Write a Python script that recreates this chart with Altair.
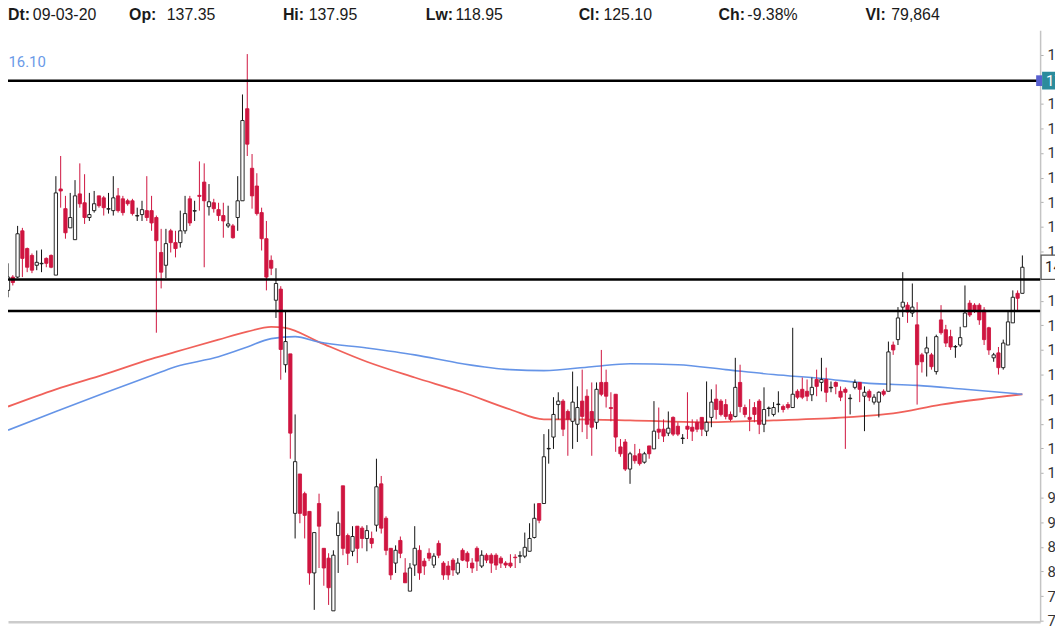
import altair as alt
import pandas as pd

OPEN = [
    137.1, 139.8, 139.8, 149.2, 145.6, 144.2, 142.2, 142.5, 143.6, 144.2,
    140.2, 157.7, 153.7, 149.8, 147.4, 156.7, 154.9, 151.9, 153.3, 156.3,
    155.9, 153.6, 153.3, 156.3, 155.7, 155.3, 155.3, 152.2, 152.5, 153.3,
    153.3, 151.9, 144.8, 142.2, 149.2, 146.8, 146.8, 149.2, 155.7, 153.2,
    156.4, 159.1, 154.1, 154.9, 153.5, 152.3, 150.2, 150.2, 151.9, 155.3,
    174.0, 161.9, 158.3, 152.9, 147.6, 143.2, 135.1, 137.35, 122.0, 124.2,
    91.8, 99.8, 95.8, 92.2, 79.7, 93.8, 84.7, 82.7, 72.0, 87.3,
    97.4, 87.3, 84.1, 89.2, 88.8, 86.7, 86.7, 89.4, 97.8, 90.8,
    84.7, 81.7, 86.3, 79.7, 76.0, 81.3, 84.3, 82.1, 83.7, 81.3,
    85.7, 81.7, 81.1, 82.3, 79.7, 84.3, 83.7, 81.7, 84.7, 81.1,
    83.3, 83.3, 83.3, 82.7, 81.7, 81.7, 82.9, 83.1, 83.1, 84.1,
    86.9, 93.8, 93.8, 104.9, 107.3, 113.9, 114.6, 112.5, 110.5, 109.9,
    114.6, 115.6, 112.5, 110.3, 118.4, 118.4, 113.3, 116.0, 105.3, 106.3,
    100.8, 103.5, 103.9, 102.2, 105.5, 104.9, 108.9, 108.9, 108.1, 111.3,
    109.5, 107.0, 109.5, 109.3, 110.3, 111.3, 108.5, 111.3, 115.0, 114.6,
    113.9, 111.9, 111.5, 118.4, 113.3, 111.3, 113.3, 114.6, 109.9, 113.1,
    111.9, 113.9, 113.5, 113.9, 113.3, 116.6, 117.0, 116.6, 115.9, 119.0,
    118.4, 119.0, 117.3, 118.4, 116.6, 117.0, 115.1, 117.4, 118.4, 115.6,
    116.6, 114.4, 114.4, 116.6, 116.6, 126.0, 127.1, 133.7, 134.1, 132.5,
    130.1, 124.0, 124.4, 124.0, 120.6, 131.1, 129.1, 127.7, 125.6, 126.0,
    129.7, 134.5, 134.1, 134.1, 133.1, 129.5, 123.4, 124.4, 121.4, 126.0,
    130.5, 136.5, 136.5,
]
HIGH = [
    142.6, 140.2, 150.2, 149.8, 145.8, 144.6, 145.2, 145.4, 143.8, 144.4,
    160.3, 164.4, 156.3, 156.9, 159.5, 162.9, 160.7, 156.9, 157.3, 156.3,
    156.3, 156.9, 160.3, 157.9, 156.3, 155.7, 155.7, 153.9, 155.3, 160.3,
    156.3, 152.3, 149.6, 149.6, 149.6, 149.2, 153.3, 156.3, 156.3, 155.3,
    163.3, 162.9, 158.7, 155.7, 154.9, 154.9, 154.3, 150.6, 160.3, 176.9,
    185.1, 164.8, 160.9, 153.9, 151.2, 144.2, 141.6, 137.95, 132.7, 124.2,
    111.9, 99.8, 96.2, 92.2, 87.9, 95.8, 84.7, 83.7, 84.3, 92.2,
    97.4, 87.7, 89.2, 89.2, 89.2, 89.4, 88.1, 102.9, 99.4, 91.2,
    84.7, 85.3, 87.1, 82.7, 81.7, 89.2, 85.3, 82.7, 84.7, 83.7,
    86.3, 82.1, 82.1, 82.7, 82.7, 84.7, 84.1, 82.7, 85.1, 84.3,
    83.7, 83.7, 83.7, 83.1, 82.1, 83.5, 83.5, 84.1, 87.9, 89.8,
    93.8, 93.8, 107.9, 108.9, 115.4, 116.4, 115.0, 112.9, 120.6, 117.6,
    121.0, 117.0, 118.4, 118.4, 125.0, 121.0, 116.4, 116.0, 106.9, 106.9,
    104.3, 105.9, 104.9, 104.3, 105.5, 114.6, 113.3, 110.9, 112.5, 111.5,
    110.3, 107.9, 116.4, 110.9, 110.9, 111.3, 118.6, 117.0, 118.0, 115.0,
    115.0, 112.5, 123.4, 122.0, 113.9, 115.0, 114.4, 115.0, 117.4, 113.5,
    114.4, 116.6, 113.9, 114.4, 129.5, 117.0, 119.4, 119.0, 119.4, 121.0,
    123.4, 121.4, 118.6, 118.6, 117.6, 117.4, 116.0, 119.0, 118.4, 117.6,
    117.0, 116.0, 116.6, 117.0, 126.7, 126.7, 133.7, 140.8, 134.7, 138.5,
    134.7, 124.4, 127.7, 124.4, 128.1, 134.1, 130.1, 129.1, 126.0, 129.7,
    138.1, 135.1, 134.5, 134.5, 133.7, 129.7, 124.4, 125.6, 127.1, 132.7,
    137.1, 137.1, 144.2,
]
LOW = [
    135.7, 138.1, 139.6, 139.8, 140.8, 140.6, 141.2, 140.8, 141.8, 141.6,
    140.2, 153.9, 147.6, 149.8, 147.4, 153.9, 150.6, 151.2, 152.9, 153.9,
    152.3, 152.7, 152.3, 152.9, 152.3, 154.3, 152.3, 151.2, 151.2, 151.2,
    149.2, 128.5, 137.5, 139.6, 144.8, 143.8, 145.8, 148.6, 150.2, 151.2,
    153.3, 141.8, 152.3, 152.9, 151.2, 147.8, 149.8, 147.6, 149.2, 155.3,
    164.4, 153.7, 152.3, 145.2, 137.1, 140.2, 131.5, 118.95, 120.4, 102.9,
    86.7, 89.8, 86.7, 77.3, 72.2, 80.7, 77.1, 73.2, 72.0, 79.7,
    83.3, 81.3, 83.1, 81.7, 84.7, 84.1, 84.7, 88.1, 87.7, 83.3,
    78.3, 79.7, 82.7, 77.7, 76.0, 79.1, 78.3, 79.3, 82.1, 80.7,
    82.7, 78.3, 78.3, 79.1, 79.3, 82.1, 80.7, 79.7, 80.1, 80.7,
    81.7, 79.7, 80.3, 80.7, 80.7, 80.7, 80.7, 81.7, 82.7, 84.1,
    86.7, 89.8, 93.8, 101.9, 104.9, 110.9, 107.5, 103.5, 104.9, 106.3,
    108.3, 106.9, 103.5, 108.9, 115.6, 113.3, 110.5, 104.3, 103.3, 100.4,
    97.8, 101.9, 101.5, 101.9, 102.9, 104.9, 106.9, 106.3, 107.5, 107.5,
    107.5, 105.9, 106.9, 106.5, 108.3, 107.5, 107.5, 109.3, 110.9, 111.5,
    110.9, 110.5, 111.3, 112.3, 111.3, 108.5, 110.3, 107.9, 108.3, 111.5,
    111.5, 112.3, 112.3, 112.9, 113.3, 115.0, 115.0, 114.6, 114.6, 115.6,
    116.6, 114.4, 116.4, 116.0, 114.6, 104.9, 111.9, 117.0, 114.4, 108.5,
    114.6, 113.9, 111.3, 115.6, 116.6, 124.0, 126.0, 131.7, 130.5, 131.7,
    113.9, 120.4, 119.6, 121.0, 120.0, 128.1, 125.6, 125.0, 123.4, 125.6,
    129.7, 131.7, 132.5, 130.1, 126.0, 124.0, 122.6, 120.0, 121.0, 126.0,
    130.5, 133.1, 136.5,
]
CLOSE = [
    139.8, 138.7, 148.6, 143.6, 141.8, 141.2, 142.8, 142.6, 142.6, 141.8,
    156.9, 157.3, 148.8, 151.9, 156.3, 154.7, 151.9, 152.5, 154.7, 154.3,
    153.9, 153.7, 155.9, 153.3, 152.9, 154.7, 152.7, 152.3, 153.5, 151.9,
    150.8, 147.2, 140.8, 146.6, 146.8, 145.6, 149.2, 152.7, 150.8, 153.3,
    156.2, 155.3, 155.1, 153.7, 152.3, 151.2, 150.6, 147.8, 155.3, 171.6,
    166.8, 156.3, 152.7, 147.6, 139.8, 141.6, 138.5, 125.10, 126.7, 108.1,
    102.3, 91.8, 91.4, 79.7, 87.9, 89.2, 80.7, 76.7, 83.3, 89.8,
    84.7, 83.7, 87.1, 84.7, 86.7, 88.3, 85.7, 97.2, 88.8, 84.3,
    79.3, 84.3, 83.7, 77.7, 80.7, 84.7, 79.7, 81.1, 82.7, 83.1,
    83.3, 79.3, 79.3, 80.3, 81.7, 82.3, 82.1, 80.7, 82.1, 83.3,
    82.3, 81.7, 81.3, 81.7, 81.3, 81.1, 82.8, 83.2, 84.9, 86.7,
    90.8, 90.4, 103.3, 105.0, 111.9, 114.6, 108.9, 110.9, 114.4, 113.3,
    111.5, 109.9, 109.3, 117.0, 116.0, 115.6, 113.1, 107.3, 103.9, 100.8,
    103.9, 102.5, 101.9, 103.9, 103.9, 108.5, 108.3, 107.5, 109.1, 107.9,
    107.9, 107.1, 108.9, 108.5, 108.9, 108.9, 110.3, 114.4, 112.9, 111.9,
    111.5, 110.9, 117.4, 113.5, 111.9, 110.9, 111.9, 109.9, 112.9, 113.2,
    113.3, 114.0, 112.9, 113.3, 116.0, 115.4, 115.4, 115.6, 117.4, 117.6,
    119.0, 116.4, 117.4, 117.6, 115.4, 116.4, 115.2, 118.4, 117.0, 116.4,
    115.4, 115.4, 116.4, 116.0, 124.6, 125.0, 131.5, 134.7, 132.7, 133.7,
    122.0, 122.6, 125.4, 121.6, 127.7, 128.5, 126.4, 125.6, 125.7, 127.5,
    132.5, 132.1, 133.1, 131.1, 127.1, 125.0, 124.0, 121.4, 126.4, 130.7,
    135.7, 135.5, 141.8,
]

RED_MA_IDX = [0, 10, 20, 30, 35, 44, 50, 55, 58, 65, 75, 85, 95, 105, 112, 118,
              130, 145, 160, 175, 185, 195, 205, 212]
RED_MA = [113.5, 117.0, 120.0, 123.2, 124.6, 127.1, 128.7, 129.7, 129.5, 126.6,
          122.6, 119.4, 116.4, 112.9, 110.9, 110.9, 110.7, 110.3, 110.7, 111.3,
          112.1, 113.9, 115.2, 116.0]
BLUE_MA_IDX = [0, 10, 20, 30, 35, 44, 50, 55, 60, 65, 75, 85, 95, 105, 112, 122,
               130, 140, 150, 160, 170, 180, 190, 200, 212]
BLUE_MA = [108.7, 112.5, 116.2, 119.8, 121.6, 123.6, 125.6, 127.3, 127.7, 126.6,
           125.4, 124.0, 122.2, 121.0, 120.8, 121.6, 122.2, 122.0, 121.0, 120.0,
           119.2, 118.2, 117.8, 117.0, 116.0]

LEVELS = [179.7, 139.3, 132.9]
# tick labels (140 and 180 sit under the price tags, as in the original)
Y_TICKS = [70, 75, 80, 85, 90, 95, 100, 105, 110, 115, 120, 125, 130, 135,
           145, 150, 155, 160, 165, 170, 175, 185]

HEADER_LABELS = ["Dt:", "Op:", "Hi:", "Lw:", "Cl:", "Ch:", "Vl:"]
HEADER_VALUES = ["09-03-20", "137.35", "137.95", "118.95", "125.10", "-9.38%", "79,864"]
BLUE_MA_LABEL = "116.10"
LEVEL_LABEL = "179.70"
LAST_LABEL = "141.80"

# ---------- layout / style ----------
W, H = 1040, 596
RED = "#cf1540"
HEADER_FONT = "Liberation Sans"
HEADER_LABEL_X = [0, 122, 277, 421, 575, 716, 864]
HEADER_VALUE_X = [25, 160, 303, 451, 600, 745, 890]

n = len(OPEN)
assert len(HIGH) == n and len(LOW) == n and len(CLOSE) == n
df = pd.DataFrame({"i": list(range(n)), "open": OPEN, "high": HIGH,
                   "low": LOW, "close": CLOSE})

X_SCALE = alt.Scale(domain=[1.03, 214.67], nice=False, zero=False)
Y_SCALE = alt.Scale(domain=[69.80, 189.955], nice=False, zero=False)
X_AXIS = alt.Axis(labels=False, ticks=False, grid=False, title=None,
                  domainColor="#cccccc", domainWidth=2.5)
Y_AXIS = alt.Axis(orient="right", values=Y_TICKS, grid=False, title=None,
                  domainColor="#c4c4c4", domainWidth=1.5, tickColor="#b0b0b0",
                  tickSize=3, tickWidth=1, labelFont="Roboto", labelFontSize=15,
                  labelColor="#333333", labelPadding=4, labelFlush=False,
                  labelOverlap=False)


def X(field):
    return alt.X(field, type="quantitative", scale=X_SCALE, axis=X_AXIS)


def Y(field):
    return alt.Y(field, type="quantitative", scale=Y_SCALE, axis=Y_AXIS)


up = "datum.close >= datum.open"

red_ma = alt.Chart(pd.DataFrame({"i": RED_MA_IDX, "ma": RED_MA})).mark_line(
    color="#ee5048", strokeWidth=1.8, interpolate="monotone", opacity=0.9
).encode(x=X("i"), y=Y("ma"))

blue_ma = alt.Chart(pd.DataFrame({"i": BLUE_MA_IDX, "ma": BLUE_MA})).mark_line(
    color="#5d8ee6", strokeWidth=1.6, interpolate="monotone", opacity=0.95
).encode(x=X("i"), y=Y("ma"))

wicks = alt.Chart(df).mark_rule(strokeWidth=1).encode(
    x=X("i"), y=Y("low"), y2="high",
    color=alt.condition(up, alt.value("#111111"), alt.value(RED)),
)

bodies = alt.Chart(df).mark_bar(size=3.3, strokeWidth=0.9).encode(
    x=X("i"), y=Y("open"), y2="close",
    fill=alt.condition(up, alt.value("#ffffff"), alt.value(RED)),
    stroke=alt.condition(up, alt.value("#111111"), alt.value(RED)),
)

levels = alt.Chart(pd.DataFrame({"lvl": LEVELS})).mark_rule(
    color="#000000", strokeWidth=2.5
).encode(y=Y("lvl"))

layers = [red_ma, blue_ma, wicks, bodies, levels]

# header strip
for k in range(len(HEADER_LABELS)):
    layers.append(
        alt.Chart(pd.DataFrame({"t": [HEADER_LABELS[k]]})).mark_text(
            align="left", baseline="middle", font=HEADER_FONT, fontSize=16,
            fontWeight="bold", color="#1a1a1a"
        ).encode(x=alt.value(HEADER_LABEL_X[k]), y=alt.value(-15), text="t:N")
    )
    layers.append(
        alt.Chart(pd.DataFrame({"t": [HEADER_VALUES[k]]})).mark_text(
            align="left", baseline="middle", font=HEADER_FONT, fontSize=16,
            color="#1a1a1a"
        ).encode(x=alt.value(HEADER_VALUE_X[k]), y=alt.value(-15), text="t:N")
    )

# blue MA value label (cut at left edge)
layers.append(
    alt.Chart(pd.DataFrame({"t": [BLUE_MA_LABEL]})).mark_text(
        align="left", baseline="middle", font="Roboto", fontSize=15,
        color="#6a9ae8"
    ).encode(x=alt.value(-8), y=alt.value(32), text="t:N")
)

# price tags on the right axis
lvl_df = pd.DataFrame({"p": [LEVELS[0]], "t": [LEVEL_LABEL]})
layers.append(
    alt.Chart(lvl_df).mark_point(
        shape="M-1,-0.36H1V0.36H-1Z", filled=True, size=2500,
        color="#2b8c9c", opacity=1
    ).encode(x=alt.value(1067), y=Y("p"))
)
layers.append(
    alt.Chart(lvl_df).mark_point(
        shape="M-1,-1.8H1V1.8H-1Z", filled=True, size=36,
        color="#5860d0", opacity=1
    ).encode(x=alt.value(1039), y=Y("p"))
)
layers.append(
    alt.Chart(lvl_df).mark_text(
        align="left", baseline="middle", font="Roboto", fontSize=15,
        color="#ffffff"
    ).encode(x=alt.value(1046), y=Y("p"), text="t:N")
)

last_df = pd.DataFrame({"p": [CLOSE[-1]], "t": [LAST_LABEL]})
layers.append(
    alt.Chart(last_df).mark_point(
        shape="M-1,-0.45H1V0.45H-1Z", filled=True, size=2916,
        color="#ffffff", stroke="#555555", strokeWidth=1.2, opacity=1
    ).encode(x=alt.value(1068), y=Y("p"))
)
layers.append(
    alt.Chart(last_df).mark_text(
        align="left", baseline="middle", font="Roboto", fontSize=15,
        color="#222222"
    ).encode(x=alt.value(1045), y=Y("p"), text="t:N")
)

chart = alt.layer(*layers).properties(
    width=W, height=H,
    padding={"left": 0, "top": 20, "right": 15, "bottom": 2},
    autosize=alt.AutoSizeParams(type="none"),
).configure_view(stroke=None)

chart.save("out.html", embed_options={"renderer": "svg", "actions": False})
